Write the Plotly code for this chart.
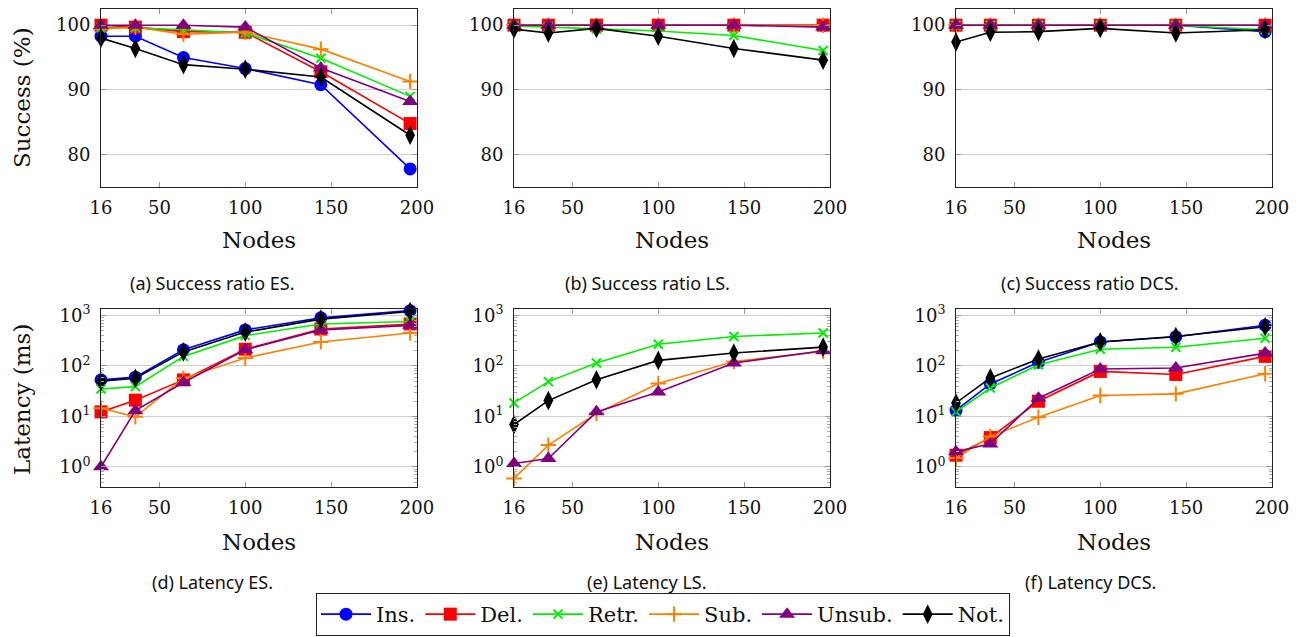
import plotly.graph_objects as go

W, H = 1301, 637

NODES = [16, 36, 64, 100, 144, 196]
X_TICKS = [16, 50, 100, 150, 200]
SUCCESS_TICKS = [80, 90, 100]
LAT_TICKS = [1, 10, 100, 1000]
LAT_TICK_TEXT = ["10<sup>0</sup>", "10<sup>1</sup>", "10<sup>2</sup>", "10<sup>3</sup>"]

SERIES = ["Ins.", "Del.", "Retr.", "Sub.", "Unsub.", "Not."]

# (a) Success ratio ES
ES_SUC_INS = [98.3, 98.3, 95.0, 93.3, 90.8, 77.8]
ES_SUC_DEL = [100.0, 99.7, 99.0, 98.9, 92.8, 84.8]
ES_SUC_RETR = [99.6, 99.6, 99.3, 98.8, 94.9, 89.0]
ES_SUC_SUB = [99.4, 99.7, 98.6, 98.9, 96.3, 91.3]
ES_SUC_UNSUB = [100.0, 100.0, 100.0, 99.7, 93.4, 88.2]
ES_SUC_NOT = [98.0, 96.4, 93.9, 93.2, 92.0, 83.0]

# (b) Success ratio LS
LS_SUC_INS = [100.0, 100.0, 100.0, 100.0, 100.0, 100.0]
LS_SUC_DEL = [100.0, 100.0, 100.0, 100.0, 100.0, 100.0]
LS_SUC_RETR = [99.9, 99.7, 99.4, 99.1, 98.4, 96.1]
LS_SUC_SUB = [100.0, 100.0, 100.0, 100.0, 100.0, 100.0]
LS_SUC_UNSUB = [100.0, 100.0, 100.0, 100.0, 100.0, 99.7]
LS_SUC_NOT = [99.4, 98.8, 99.5, 98.3, 96.4, 94.6]

# (c) Success ratio DCS
DCS_SUC_INS = [100.0, 100.0, 100.0, 100.0, 100.0, 99.0]
DCS_SUC_DEL = [100.0, 100.0, 100.0, 100.0, 100.0, 100.0]
DCS_SUC_RETR = [100.0, 100.0, 100.0, 100.0, 100.0, 99.3]
DCS_SUC_SUB = [100.0, 100.0, 100.0, 100.0, 100.0, 100.0]
DCS_SUC_UNSUB = [100.0, 100.0, 100.0, 100.0, 100.0, 100.0]
DCS_SUC_NOT = [97.4, 98.9, 99.0, 99.5, 98.8, 99.3]

# (d) Latency ES (ms)
ES_LAT_INS = [53, 60, 210, 520, 900, 1250]
ES_LAT_DEL = [12.3, 21, 53, 215, 540, 680]
ES_LAT_RETR = [35, 39, 155, 400, 680, 760]
ES_LAT_SUB = [14.5, 9.8, 57, 144, 300, 450]
ES_LAT_UNSUB = [1.0, 13, 47, 210, 520, 640]
ES_LAT_NOT = [50, 57, 190, 470, 850, 1200]

# (e) Latency LS (ms)
LS_LAT_INS = None
LS_LAT_DEL = None
LS_LAT_RETR = [18.5, 49, 115, 270, 385, 450]
LS_LAT_SUB = [0.59, 2.7, 11.4, 45, 123, 195]
LS_LAT_UNSUB = [1.16, 1.46, 12.3, 30.5, 115, 200]
LS_LAT_NOT = [6.9, 20.6, 53.5, 129, 181, 237]

# (f) Latency DCS (ms)
DCS_LAT_INS = [13.2, 44, 118, 300, 380, 640]
DCS_LAT_DEL = [1.7, 3.8, 20, 78, 68, 155]
DCS_LAT_RETR = [12.3, 36.6, 106, 215, 235, 355]
DCS_LAT_SUB = [1.5, 4.0, 9.6, 26, 28, 70]
DCS_LAT_UNSUB = [2.0, 2.85, 23, 87, 91, 180]
DCS_LAT_NOT = [18.5, 58, 138, 300, 385, 600]

CAPTIONS = ["(a) Success ratio ES.", "(b) Success ratio LS.", "(c) Success ratio DCS.",
            "(d) Latency ES.", "(e) Latency LS.", "(f) Latency DCS."]

panels = [
    [ES_SUC_INS, ES_SUC_DEL, ES_SUC_RETR, ES_SUC_SUB, ES_SUC_UNSUB, ES_SUC_NOT],
    [LS_SUC_INS, LS_SUC_DEL, LS_SUC_RETR, LS_SUC_SUB, LS_SUC_UNSUB, LS_SUC_NOT],
    [DCS_SUC_INS, DCS_SUC_DEL, DCS_SUC_RETR, DCS_SUC_SUB, DCS_SUC_UNSUB, DCS_SUC_NOT],
    [ES_LAT_INS, ES_LAT_DEL, ES_LAT_RETR, ES_LAT_SUB, ES_LAT_UNSUB, ES_LAT_NOT],
    [LS_LAT_INS, LS_LAT_DEL, LS_LAT_RETR, LS_LAT_SUB, LS_LAT_UNSUB, LS_LAT_NOT],
    [DCS_LAT_INS, DCS_LAT_DEL, DCS_LAT_RETR, DCS_LAT_SUB, DCS_LAT_UNSUB, DCS_LAT_NOT],
]

styles = [
    dict(color="#0000ff", symbol="circle", size=13, lw=0),
    dict(color="#ff0000", symbol="square", size=13, lw=0),
    dict(color="#00ee00", symbol="x-thin-open", size=9, lw=2),
    dict(color="#ff8000", symbol="cross-thin-open", size=11, lw=2),
    dict(color="#800080", symbol="triangle-up", size=14, lw=0),
    dict(color="#000000", symbol="diamond-tall", size=14, lw=0),
]

SERIF = "DejaVu Serif"
SANS = "Noto Sans"


def px(x):
    return x / W


def py(y):
    return 1 - y / H


col_px = [(101, 417), (514, 830), (956, 1272)]
row_px = [(9, 187), (309, 487)]

fig = go.Figure()
layout = {}
for p in range(6):
    r, c = divmod(p, 3)
    idx = p + 1
    xa = "x" if idx == 1 else f"x{idx}"
    ya = "y" if idx == 1 else f"y{idx}"
    for s, vals in enumerate(panels[p]):
        if vals is None:
            continue
        st = styles[s]
        fig.add_trace(go.Scatter(
            x=NODES, y=vals, xaxis=xa, yaxis=ya, mode="lines+markers",
            name=SERIES[s], legendgroup=SERIES[s], showlegend=(p == 0),
            cliponaxis=False,
            line=dict(color=st["color"], width=1.6),
            marker=dict(symbol=st["symbol"], size=st["size"], color=st["color"],
                        line=dict(color=st["color"], width=st["lw"])),
        ))
    x0, x1 = col_px[c]
    y0, y1 = row_px[r]
    common = dict(showline=True, linecolor="#222", linewidth=1, mirror="allticks",
                  ticks="inside", tickcolor="#999", ticklen=5, zeroline=False,
                  automargin=False,
                  tickfont=dict(family=SERIF, size=18, color="#111"))
    layout["xaxis" if idx == 1 else f"xaxis{idx}"] = dict(
        domain=[px(x0), px(x1)], anchor=ya, range=[16, 200],
        tickvals=X_TICKS, showgrid=False, ticklabelstandoff=4, **common)
    if r == 0:
        yax = dict(range=[75, 102.5], tickvals=SUCCESS_TICKS)
    else:
        yax = dict(type="log", range=[-0.4, 3.13], tickvals=LAT_TICKS, ticktext=LAT_TICK_TEXT,
                   minor=dict(ticks="inside", ticklen=3, tickcolor="#aaa", dtick="D1", showgrid=False))
    layout["yaxis" if idx == 1 else f"yaxis{idx}"] = dict(
        domain=[py(y1), py(y0)], anchor=xa, showgrid=True, gridcolor="#d0d0d0", gridwidth=1,
        ticklabelstandoff=6, **yax, **common)

annotations = []
for c in range(3):
    cx = (col_px[c][0] + col_px[c][1]) / 2
    for r, ty in enumerate([240, 542]):
        annotations.append(dict(text="Nodes", x=px(cx), y=py(ty), xref="paper", yref="paper",
                                showarrow=False, xanchor="center", yanchor="middle",
                                font=dict(family=SERIF, size=23, color="#111")))
cap_x = [212, 647, 1090]
for p in range(6):
    r, c = divmod(p, 3)
    annotations.append(dict(text=CAPTIONS[p], x=px(cap_x[c]), y=py([283, 582][r]),
                            xref="paper", yref="paper", showarrow=False,
                            xanchor="center", yanchor="middle",
                            font=dict(family=SANS, size=18, color="#111")))
annotations.append(dict(text="Success (%)", x=px(22), y=py(98), xref="paper", yref="paper",
                        showarrow=False, textangle=-90, xanchor="center", yanchor="middle",
                        font=dict(family=SERIF, size=23, color="#111")))
annotations.append(dict(text="Latency (ms)", x=px(22), y=py(400), xref="paper", yref="paper",
                        showarrow=False, textangle=-90, xanchor="center", yanchor="middle",
                        font=dict(family=SERIF, size=23, color="#111")))

fig.update_layout(
    width=W, height=H, margin=dict(l=0, r=0, t=0, b=0, autoexpand=False),
    paper_bgcolor="white", plot_bgcolor="white",
    annotations=annotations,
    legend=dict(orientation="h", x=px(663), y=py(636), xanchor="center", yanchor="bottom",
                bordercolor="#222", borderwidth=1, bgcolor="white",
                font=dict(family=SERIF, size=21, color="#111"), itemwidth=50,
                tracegroupgap=0),
    **layout,
)

fig.write_html("out.html", config={"displayModeBar": False},
               post_script="document.body.style.margin='0';document.body.style.overflow='hidden';")
